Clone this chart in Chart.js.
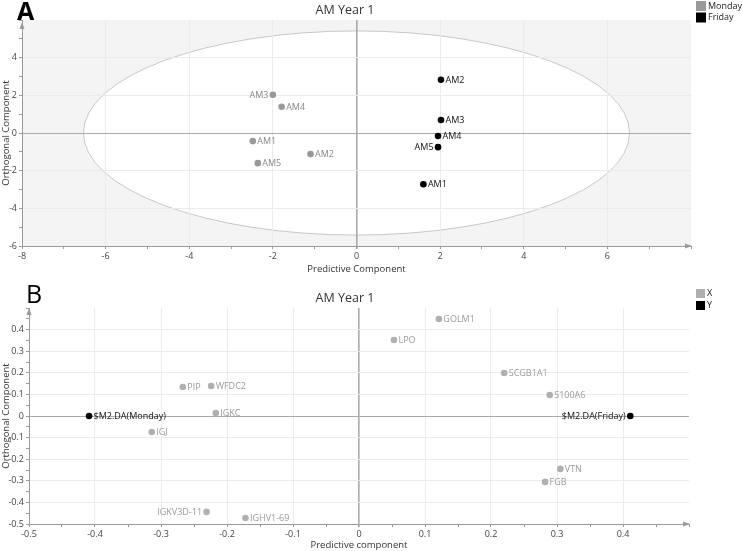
<!DOCTYPE html>
<html><head><meta charset="utf-8">
<script src="https://cdn.jsdelivr.net/npm/chart.js@4"></script>
<style>
html,body{margin:0;padding:0;background:#fff;overflow:hidden;}
#a{position:absolute;left:0;top:0;width:742px;height:280px;}
#b{position:absolute;left:0;top:280px;width:742px;height:271px;}
</style></head><body>
<div id="a"><canvas id="ca"></canvas></div>
<div id="b"><canvas id="cb"></canvas></div>
<script>
const FONT = "'Open Sans', 'Noto Sans', sans-serif";

// ---- Panel A data ----
const titleA = 'AM Year 1';
const mondayLabels = ['AM1', 'AM2', 'AM3', 'AM4', 'AM5'];
const mondayX = [-2.48, -1.10, -2.00, -1.79, -2.36];
const mondayY = [-0.43, -1.12, 2.03, 1.39, -1.60];
const fridayLabels = ['AM1', 'AM2', 'AM3', 'AM4', 'AM5'];
const fridayX = [1.60, 2.02, 2.02, 1.95, 1.95];
const fridayY = [-2.72, 2.83, 0.69, -0.16, -0.75];
const ellipseRadiusX = 6.53;
const ellipseRadiusY = 5.42;
const xTicksA = [-8, -6, -4, -2, 0, 2, 4, 6];
const yTicksA = [-6, -4, -2, 0, 2, 4];

// ---- Panel B data ----
const titleB = 'AM Year 1';
const xVarLabels = ['GOLM1', 'LPO', 'SCGB1A1', 'S100A6', 'PIP', 'WFDC2', 'IGKC', 'IGJ', 'IGKV3D-11', 'IGHV1-69', 'VTN', 'FGB'];
const xVarX = [0.121, 0.053, 0.220, 0.289, -0.267, -0.224, -0.217, -0.314, -0.231, -0.172, 0.305, 0.282];
const xVarY = [0.449, 0.352, 0.199, 0.097, 0.134, 0.139, 0.014, -0.074, -0.444, -0.472, -0.245, -0.305];
const yVarLabels = ['$M2.DA(Monday)', '$M2.DA(Friday)'];
const yVarX = [-0.409, 0.411];
const yVarY = [0, 0];
const xTicksB = [-0.5, -0.4, -0.3, -0.2, -0.1, 0, 0.1, 0.2, 0.3, 0.4];
const yTicksB = [-0.5, -0.4, -0.3, -0.2, -0.1, 0, 0.1, 0.2, 0.3, 0.4];

function pts(xs, ys) { return xs.map((x, i) => ({ x: x, y: ys[i] })); }
function inList(list, v) { return list.some(t => Math.abs(t - v) < 1e-9); }

function axis(min, max, step, list, title, isY, size, titlePad) {
  return {
    type: 'linear', min: min, max: max,
    afterFit: s => { if (isY) s.width = size; else s.height = size; },
    ticks: {
      stepSize: step, autoSkip: false, maxRotation: 0, padding: 2,
      color: '#444', font: { family: FONT, size: 9 },
      callback: v => inList(list, v) ? String(Math.round(v * 10) / 10) : ''
    },
    grid: {
      color: c => Math.abs(c.tick.value) < 1e-9 ? '#aaaaaa' : (inList(list, c.tick.value) ? '#ebebeb' : 'rgba(0,0,0,0)'),
      lineWidth: c => Math.abs(c.tick.value) < 1e-9 ? (isY ? 1 : 1.6) : 1,
      tickColor: '#9a9a9a', tickLength: 3, drawTicks: true
    },
    border: { display: true, color: '#9a9a9a', width: 1 },
    title: { display: true, text: title, color: '#333', font: { family: FONT, size: 9.5 }, padding: titlePad }
  };
}

function decorPlugin(cfg) {
  return {
    id: 'decor',
    beforeDraw(chart) {
      if (!cfg.ellipse) return;
      const { ctx, chartArea: a, scales } = chart;
      ctx.save();
      ctx.fillStyle = '#f4f4f4';
      ctx.fillRect(a.left, a.top, a.right - a.left, a.bottom - a.top);
      const cx = scales.x.getPixelForValue(0), cy = scales.y.getPixelForValue(0);
      const rx = scales.x.getPixelForValue(cfg.ellipse[0]) - cx;
      const ry = cy - scales.y.getPixelForValue(cfg.ellipse[1]);
      ctx.beginPath();
      ctx.ellipse(cx, cy, rx, ry, 0, 0, Math.PI * 2);
      ctx.fillStyle = '#ffffff';
      ctx.fill();
      ctx.strokeStyle = '#c8c8c8';
      ctx.lineWidth = 1;
      ctx.stroke();
      ctx.restore();
    },
    afterDatasetsDraw(chart) {
      const ctx = chart.ctx;
      ctx.save();
      ctx.font = '9px ' + FONT;
      ctx.textBaseline = 'middle';
      chart.data.datasets.forEach((ds, di) => {
        const meta = chart.getDatasetMeta(di);
        meta.data.forEach((el, i) => {
          const name = ds.names[i];
          const left = (ds.leftNames || []).includes(name);
          ctx.fillStyle = ds.labelColor;
          ctx.textAlign = left ? 'right' : 'left';
          ctx.fillText(name, el.x + (left ? -4.5 : 4.5), el.y + 0.5);
        });
      });
      ctx.restore();
    },
    afterDraw(chart) {
      const { ctx, chartArea: a } = chart;
      ctx.save();
      // axis arrows
      ctx.fillStyle = '#9a9a9a';
      ctx.beginPath();
      ctx.moveTo(a.left, cfg.arrowTop - 5); ctx.lineTo(a.left - 2.5, cfg.arrowTop + 2); ctx.lineTo(a.left + 2.5, cfg.arrowTop + 2); ctx.closePath(); ctx.fill();
      ctx.beginPath();
      ctx.moveTo(a.right + 1, a.bottom); ctx.lineTo(a.right - 6, a.bottom - 2.5); ctx.lineTo(a.right - 6, a.bottom + 2.5); ctx.closePath(); ctx.fill();
      // title
      ctx.fillStyle = '#333';
      ctx.font = '12.5px ' + FONT;
      ctx.textAlign = 'center'; ctx.textBaseline = 'middle';
      ctx.fillText(cfg.title, cfg.titleX, cfg.titleY);
      // panel letter
      ctx.fillStyle = '#000';
      ctx.font = cfg.letterWeight + ' 25px ' + FONT;
      ctx.textAlign = 'left'; ctx.textBaseline = 'alphabetic';
      ctx.fillText(cfg.letter, cfg.letterX, cfg.letterY);
      // legend
      ctx.font = '9px ' + FONT;
      ctx.textBaseline = 'middle';
      chart.data.datasets.forEach((ds, i) => {
        const y = cfg.legendY + i * cfg.legendStep;
        ctx.fillStyle = ds.backgroundColor;
        ctx.fillRect(696, y, cfg.legendBox, cfg.legendBox);
        ctx.fillStyle = '#222';
        ctx.fillText(ds.label, 696 + cfg.legendBox + 2, y + cfg.legendBox / 2);
      });
      ctx.restore();
    }
  };
}

const baseOpts = {
  responsive: true, maintainAspectRatio: false, animation: false,
  plugins: { legend: { display: false }, tooltip: { enabled: false }, title: { display: false } }
};

new Chart(document.getElementById('ca'), {
  type: 'scatter',
  data: {
    datasets: [
      { label: 'Monday', data: pts(mondayX, mondayY), names: mondayLabels, leftNames: ['AM3'],
        backgroundColor: '#999999', labelColor: '#888888', pointRadius: 3.3, borderWidth: 0 },
      { label: 'Friday', data: pts(fridayX, fridayY), names: fridayLabels, leftNames: ['AM5'],
        backgroundColor: '#000000', labelColor: '#111111', pointRadius: 3.3, borderWidth: 0 }
    ]
  },
  options: Object.assign({}, baseOpts, {
    layout: { padding: { top: 20, right: 51, left: 0, bottom: 0 } },
    scales: {
      x: axis(-8, 8, 1, xTicksA, 'Predictive Component', false, 34, { top: 0, bottom: 5 }),
      y: axis(-6, 6, 1, yTicksA, 'Orthogonal Component', true, 22, { top: 1, bottom: 0 })
    }
  }),
  plugins: [decorPlugin({ ellipse: [ellipseRadiusX, ellipseRadiusY], title: titleA, titleX: 345, titleY: 10,
    letter: 'A', letterX: 17, letterY: 20, letterWeight: 'bold', legendY: 1, legendStep: 11.5, legendBox: 10, arrowTop: 27 })]
});

new Chart(document.getElementById('cb'), {
  type: 'scatter',
  data: {
    datasets: [
      { label: 'X', data: pts(xVarX, xVarY), names: xVarLabels, leftNames: ['IGKV3D-11'],
        backgroundColor: '#b0b0b0', labelColor: '#9a9a9a', pointRadius: 3.3, borderWidth: 0 },
      { label: 'Y', data: pts(yVarX, yVarY), names: yVarLabels, leftNames: ['$M2.DA(Friday)'],
        backgroundColor: '#000000', labelColor: '#111111', pointRadius: 3.3, borderWidth: 0 }
    ]
  },
  options: Object.assign({}, baseOpts, {
    layout: { padding: { top: 28, right: 53, left: 0, bottom: 0 } },
    scales: {
      x: axis(-0.5, 0.5, 0.05, xTicksB, 'Predictive component', false, 27, { top: 0, bottom: 0 }),
      y: axis(-0.5, 0.5, 0.05, yTicksB, 'Orthogonal Component', true, 29, { top: 1, bottom: 0 })
    }
  }),
  plugins: [decorPlugin({ title: titleB, titleX: 345, titleY: 18,
    letter: 'B', letterX: 26, letterY: 23, letterWeight: 'normal', legendY: 9, legendStep: 12, legendBox: 9, arrowTop: 33 })]
});
</script>
</body></html>
